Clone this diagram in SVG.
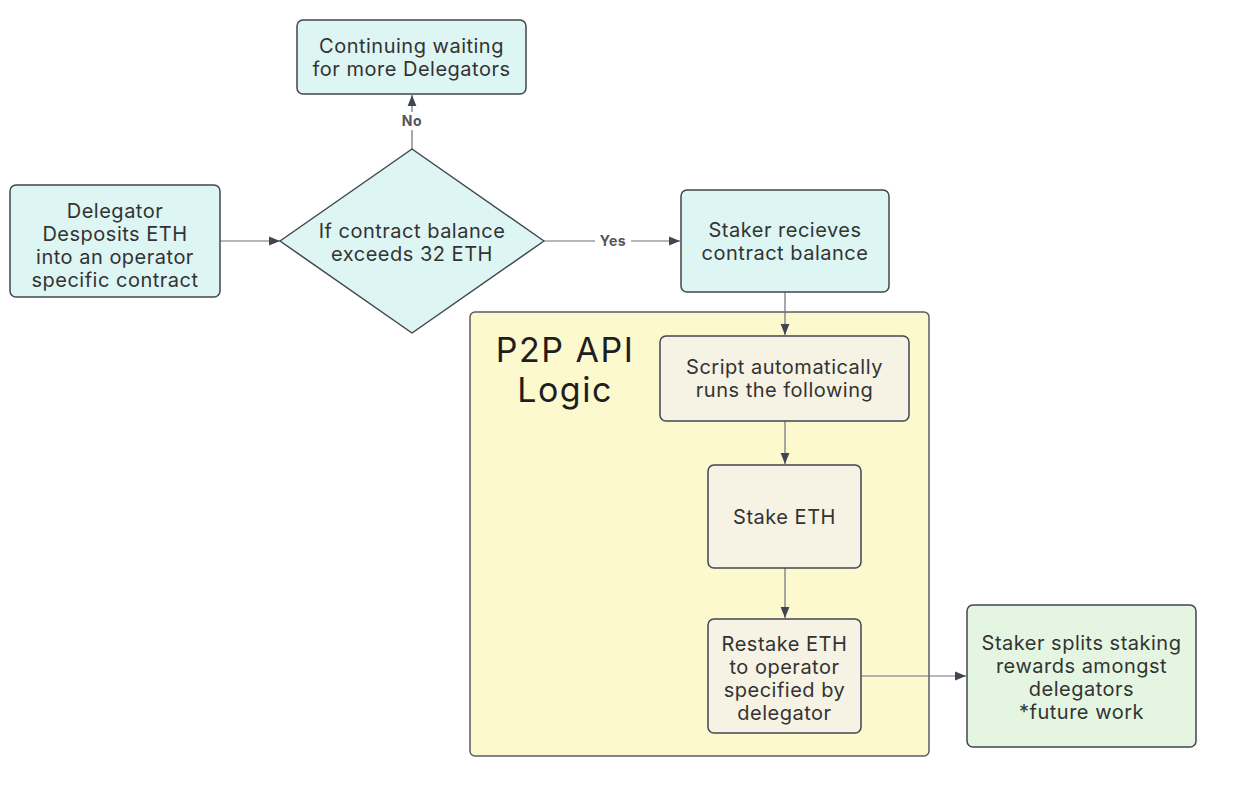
<svg xmlns="http://www.w3.org/2000/svg" width="1256" height="786" viewBox="0 0 1256 786">
<defs>
<marker id="ah" viewBox="0 0 10 10" refX="10" refY="5" markerWidth="11" markerHeight="11" markerUnits="userSpaceOnUse" orient="auto">
<path d="M0,1 L10,5 L0,9 z" fill="#3f4651"/>
</marker>
<style>
.cy{fill:#ddf6f4;stroke:#40464f;stroke-width:1.5}
.bg{fill:#f6f2e4;stroke:#40464f;stroke-width:1.5}
.gr{fill:#e4f6e2;stroke:#40464f;stroke-width:1.5}
.ct{fill:#fdf9cf;stroke:#585c62;stroke-width:1.5}
.t{font-family:Inter,"Liberation Sans",sans-serif;font-size:20px;letter-spacing:0.5px;fill:#333333;text-anchor:middle}
.big{font-family:Inter,"Liberation Sans",sans-serif;font-size:34px;letter-spacing:1.5px;fill:#1e1e1e;text-anchor:middle}
.lb{font-family:Inter,"Liberation Sans",sans-serif;font-size:14px;letter-spacing:0.5px;font-weight:bold;fill:#555555;text-anchor:middle}
.e{fill:none;stroke:#6b7078;stroke-width:1.2;marker-end:url(#ah)}
</style>
</defs>
<rect width="1256" height="786" fill="#ffffff"/>
<g id="p2p-container">
<rect class="ct" x="470" y="312" width="459" height="444" rx="5"/>
<text class="big" x="565" y="362">P2P API</text>
<text class="big" x="565" y="402">Logic</text>
</g>
<g id="connectors">
<path class="e" d="M220,241 L280,241"/>
<path class="e" d="M412,149 L412,95"/>
<rect x="398" y="112" width="28" height="18" fill="#ffffff"/>
<text class="lb" x="412" y="126">No</text>
<path class="e" d="M544,241 L680,241"/>
<rect x="595" y="233" width="36" height="17" fill="#ffffff"/>
<text class="lb" x="613" y="246">Yes</text>
<path class="e" d="M785,292 L785,335"/>
<path class="e" d="M785,421 L785,464"/>
<path class="e" d="M785,568 L785,618"/>
<path class="e" d="M860,676 L966,676"/>
</g>
<g id="wait">
<rect class="cy" x="297" y="20" width="229" height="74" rx="6"/>
<text class="t" x="411.5" y="53">Continuing waiting</text>
<text class="t" x="411.5" y="76">for more Delegators</text>
</g>
<g id="deposit">
<rect class="cy" x="10" y="185" width="210" height="112" rx="6"/>
<text class="t" x="115" y="218">Delegator</text>
<text class="t" x="115" y="241">Desposits ETH</text>
<text class="t" x="115" y="264">into an operator</text>
<text class="t" x="115" y="287">specific contract</text>
</g>
<g id="decision">
<path class="cy" d="M412,149 L544,241 L412,333 L280,241 Z" stroke-linejoin="round"/>
<text class="t" x="412" y="238">If contract balance</text>
<text class="t" x="412" y="261">exceeds 32 ETH</text>
</g>
<g id="receive">
<rect class="cy" x="681" y="190" width="208" height="102" rx="6"/>
<text class="t" x="785" y="237">Staker recieves</text>
<text class="t" x="785" y="260">contract balance</text>
</g>
<g id="script">
<rect class="bg" x="660" y="336" width="249" height="85" rx="6"/>
<text class="t" x="784.5" y="374">Script automatically</text>
<text class="t" x="784.5" y="397">runs the following</text>
</g>
<g id="stake">
<rect class="bg" x="708" y="465" width="153" height="103" rx="6"/>
<text class="t" x="784.5" y="524">Stake ETH</text>
</g>
<g id="restake">
<rect class="bg" x="708" y="619" width="153" height="114" rx="6"/>
<text class="t" x="784.5" y="651">Restake ETH</text>
<text class="t" x="784.5" y="674">to operator</text>
<text class="t" x="784.5" y="697">specified by</text>
<text class="t" x="784.5" y="720">delegator</text>
</g>
<g id="split">
<rect class="gr" x="967" y="605" width="229" height="142" rx="6"/>
<text class="t" x="1081.5" y="650">Staker splits staking</text>
<text class="t" x="1081.5" y="673">rewards amongst</text>
<text class="t" x="1081.5" y="696">delegators</text>
<text class="t" x="1081.5" y="719">*future work</text>
</g>
</svg>
